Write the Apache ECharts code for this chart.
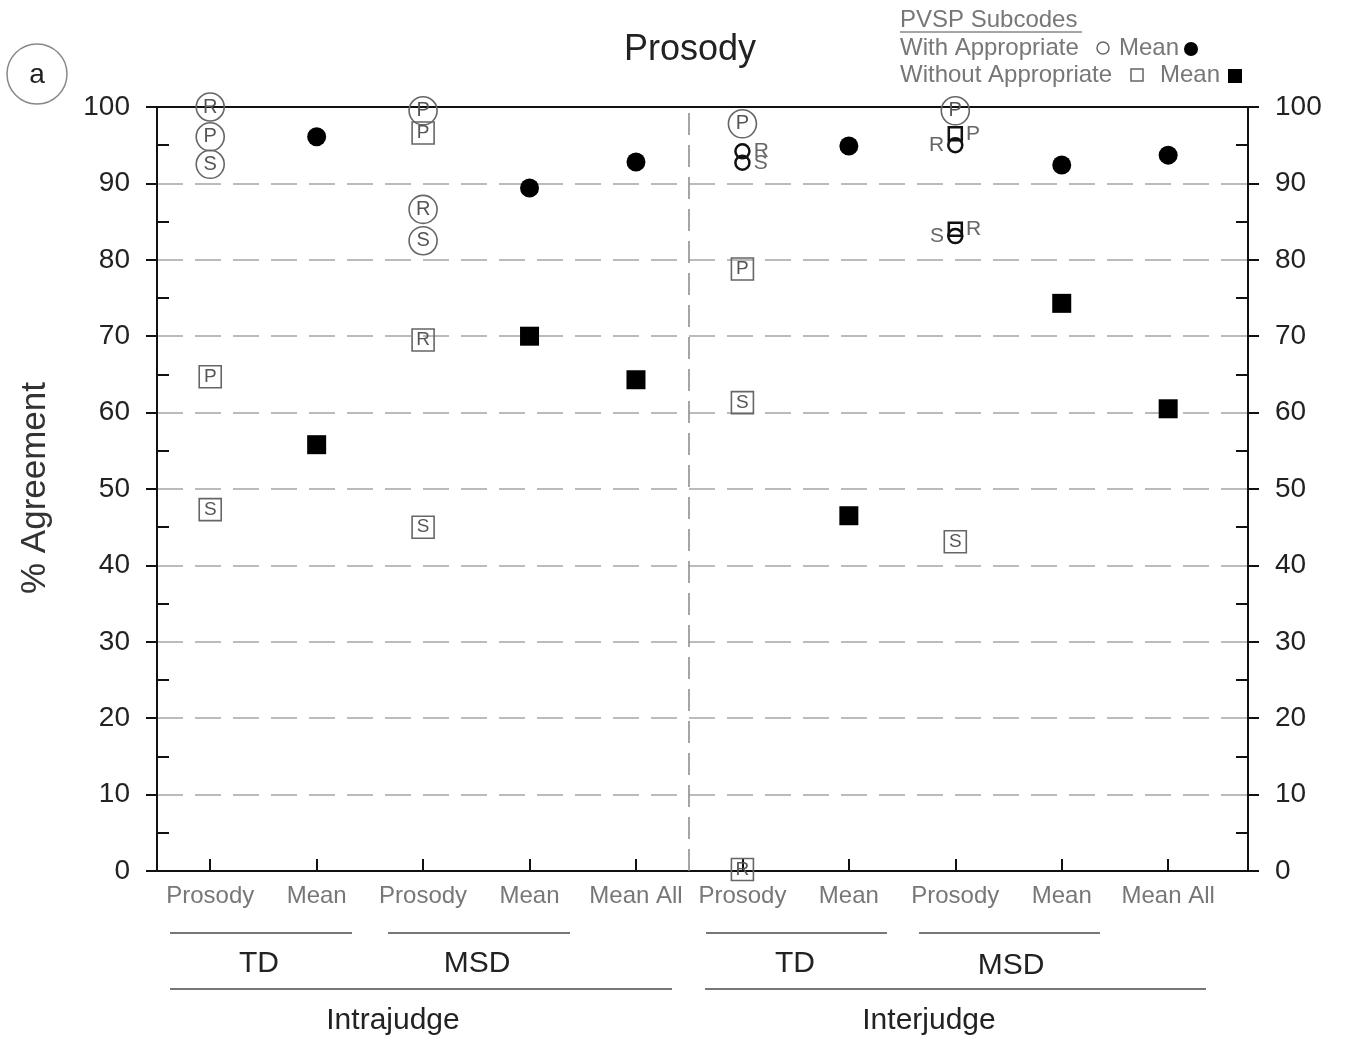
<!DOCTYPE html>
<html>
<head>
<meta charset="utf-8">
<script src="https://cdn.jsdelivr.net/npm/echarts@6/dist/echarts.min.js"></script>
<style>
html,body{margin:0;padding:0;background:#fff;}
#chart{width:1345px;height:1042px;}
</style>
</head>
<body>
<div id="chart"></div>
<script>
// ---- data ----
const categories = ['Prosody','Mean','Prosody','Mean','Mean All','Prosody','Mean','Prosody','Mean','Mean All'];
const catPositions = [1,2,3,4,5,6,7,8,9,10];
const yTicks = [0,10,20,30,40,50,60,70,80,90,100];
const yMinorTicks = [5,15,25,35,45,55,65,75,85,95];
// [category position, % agreement]
const withR = [[1,100.0],[3,86.6],[6,94.2],[8,95.0]];
const withP = [[1,96.1],[3,99.5],[6,97.8],[8,99.5]];
const withS = [[1,92.5],[3,82.5],[6,92.7],[8,83.1]];
const withoutR = [[3,69.5],[6,0.2],[8,84.0]];
const withoutP = [[1,64.7],[3,96.6],[6,78.8],[8,96.5]];
const withoutS = [[1,47.3],[3,45.0],[6,61.3],[8,43.1]];
const withMean = [[2,96.1],[4,89.4],[5,92.8],[7,94.9],[9,92.4],[10,93.7]];
const withoutMean = [[2,55.8],[4,70.0],[5,64.3],[7,46.5],[9,74.3],[10,60.5]];

// ---- style for points whose letter sits beside a small marker ----
const outsideLabel = {
  'withR:6':'right','withS:6':'right',
  'withR:8':'left','withS:8':'left',
  'withoutP:8':'right','withoutR:8':'right'
};

const FONT = '"Liberation Sans", Arial, sans-serif';
const chart = echarts.init(document.getElementById('chart'), null, {renderer:'canvas'});

function letterSeries(key, data, letter, shape){
  const isCircle = shape === 'circle';
  return {
    type:'scatter', name:key, clip:false, z:5,
    symbol: isCircle ? 'circle' : 'rect',
    symbolSize: isCircle ? 28 : 22,
    itemStyle:{color:'rgba(0,0,0,0)', borderColor:'#666', borderWidth:1.6, opacity:1},
    label:{show:true, position:'inside', formatter:letter, color:'#555', fontSize: isCircle?20:19, fontFamily:FONT},
    data: data.map(d => {
      const pos = outsideLabel[key + ':' + d[0]];
      if (!pos) return {value:d};
      return {
        value:d,
        symbolSize: isCircle ? 14 : 13,
        itemStyle:{color:'rgba(0,0,0,0)', borderColor:'#111', borderWidth:2.5, opacity:1},
        label:{show:true, position:pos, distance:3, color:'#666', fontSize:21}
      };
    })
  };
}

const axisLineStyle = {color:'#111', width:2};

const option = {
  animation:false,
  backgroundColor:'#fff',
  grid:{left:157, right:97, top:107, bottom:171, containLabel:false},
  xAxis:[
    {type:'value', position:'bottom', min:0.5, max:10.75,
     axisLine:{show:true, onZero:false, lineStyle:axisLineStyle},
     axisTick:{show:true, inside:true, length:12, customValues:catPositions, lineStyle:{color:'#111', width:2}},
     axisLabel:{show:true, customValues:catPositions, formatter:v => categories[Math.round(v)-1] || '', color:'#777', fontSize:24, fontFamily:FONT, margin:13},
     splitLine:{show:false}},
    {type:'value', position:'top', min:0.5, max:10.75,
     axisLine:{show:true, onZero:false, lineStyle:axisLineStyle},
     axisTick:{show:false}, axisLabel:{show:false}, splitLine:{show:false}}
  ],
  yAxis:[
    {type:'value', position:'left', min:0, max:100, interval:10,
     axisLine:{show:true, lineStyle:axisLineStyle},
     axisTick:{show:true, inside:false, length:11, customValues:yTicks, lineStyle:{color:'#111', width:2}},
     axisLabel:{show:true, customValues:yTicks, color:'#222', fontSize:28, fontFamily:FONT, margin:27},
     splitLine:{show:true, lineStyle:{color:'#bbb', width:2, type:[26,12]}}},
    {type:'value', position:'left', min:0, max:100, interval:10,
     axisLine:{show:false},
     axisTick:{show:true, inside:true, length:12, customValues:yMinorTicks, lineStyle:{color:'#111', width:2}},
     axisLabel:{show:false}, splitLine:{show:false}},
    {type:'value', position:'right', min:0, max:100, interval:10,
     axisLine:{show:true, lineStyle:axisLineStyle},
     axisTick:{show:true, inside:false, length:11, customValues:yTicks, lineStyle:{color:'#111', width:2}},
     axisLabel:{show:true, customValues:yTicks, color:'#222', fontSize:28, fontFamily:FONT, margin:27},
     splitLine:{show:false}},
    {type:'value', position:'right', min:0, max:100, interval:10,
     axisLine:{show:false},
     axisTick:{show:true, inside:true, length:12, customValues:yMinorTicks, lineStyle:{color:'#111', width:2}},
     axisLabel:{show:false}, splitLine:{show:false}}
  ],
  series:[
    {type:'scatter', name:'divider', data:[], z:1,
     markLine:{silent:true, symbol:['none','none'], label:{show:false},
       lineStyle:{color:'#888', width:1.5, type:[22,10]},
       data:[{xAxis:5.5}]}},
    letterSeries('withR', withR, 'R', 'circle'),
    letterSeries('withP', withP, 'P', 'circle'),
    letterSeries('withS', withS, 'S', 'circle'),
    letterSeries('withoutR', withoutR, 'R', 'rect'),
    letterSeries('withoutP', withoutP, 'P', 'rect'),
    letterSeries('withoutS', withoutS, 'S', 'rect'),
    {type:'scatter', name:'withMean', symbol:'circle', symbolSize:19, clip:false, z:6,
     itemStyle:{color:'#000', opacity:1}, data:withMean},
    {type:'scatter', name:'withoutMean', symbol:'rect', symbolSize:19, clip:false, z:6,
     itemStyle:{color:'#000', opacity:1}, data:withoutMean}
  ],
  graphic:[
    // title
    {type:'text', x:690, y:50, style:{text:'Prosody', fontSize:36, fill:'#222', fontFamily:FONT, align:'center', verticalAlign:'middle'}},
    // panel letter
    {type:'circle', shape:{cx:37, cy:74, r:30}, style:{fill:'none', stroke:'#888', lineWidth:1.5}},
    {type:'text', x:37, y:75, style:{text:'a', fontSize:28, fill:'#222', fontFamily:FONT, align:'center', verticalAlign:'middle'}},
    // y axis name
    {type:'text', x:35, y:488, rotation:Math.PI/2, style:{text:'% Agreement', fontSize:35, fill:'#333', fontFamily:FONT, align:'center', verticalAlign:'middle'}},
    // legend
    {type:'text', x:900, y:20, style:{text:'PVSP Subcodes', fontSize:24, fill:'#777', fontFamily:FONT, verticalAlign:'middle'}},
    {type:'line', shape:{x1:900, y1:32, x2:1082, y2:32}, style:{stroke:'#888', lineWidth:1.5}},
    {type:'text', x:900, y:48, style:{text:'With Appropriate', fontSize:24, fill:'#777', fontFamily:FONT, verticalAlign:'middle'}},
    {type:'circle', shape:{cx:1103, cy:48, r:6}, style:{fill:'none', stroke:'#666', lineWidth:1.5}},
    {type:'text', x:1119, y:48, style:{text:'Mean', fontSize:24, fill:'#777', fontFamily:FONT, verticalAlign:'middle'}},
    {type:'circle', shape:{cx:1191, cy:49, r:7}, style:{fill:'#000'}},
    {type:'text', x:900, y:75, style:{text:'Without Appropriate', fontSize:24, fill:'#777', fontFamily:FONT, verticalAlign:'middle'}},
    {type:'rect', shape:{x:1131, y:69, width:12, height:12}, style:{fill:'none', stroke:'#666', lineWidth:1.5}},
    {type:'text', x:1160, y:75, style:{text:'Mean', fontSize:24, fill:'#777', fontFamily:FONT, verticalAlign:'middle'}},
    {type:'rect', shape:{x:1228, y:69, width:14, height:14}, style:{fill:'#000'}},
    // group annotations
    {type:'line', shape:{x1:170, y1:933, x2:352, y2:933}, style:{stroke:'#777', lineWidth:2}},
    {type:'line', shape:{x1:388, y1:933, x2:570, y2:933}, style:{stroke:'#777', lineWidth:2}},
    {type:'line', shape:{x1:706, y1:933, x2:887, y2:933}, style:{stroke:'#777', lineWidth:2}},
    {type:'line', shape:{x1:919, y1:933, x2:1100, y2:933}, style:{stroke:'#777', lineWidth:2}},
    {type:'text', x:259, y:964, style:{text:'TD', fontSize:30, fill:'#222', fontFamily:FONT, align:'center', verticalAlign:'middle'}},
    {type:'text', x:477, y:964, style:{text:'MSD', fontSize:30, fill:'#222', fontFamily:FONT, align:'center', verticalAlign:'middle'}},
    {type:'text', x:795, y:964, style:{text:'TD', fontSize:30, fill:'#222', fontFamily:FONT, align:'center', verticalAlign:'middle'}},
    {type:'text', x:1011, y:966, style:{text:'MSD', fontSize:30, fill:'#222', fontFamily:FONT, align:'center', verticalAlign:'middle'}},
    {type:'line', shape:{x1:170, y1:989, x2:672, y2:989}, style:{stroke:'#777', lineWidth:2}},
    {type:'line', shape:{x1:705, y1:989, x2:1206, y2:989}, style:{stroke:'#777', lineWidth:2}},
    {type:'text', x:393, y:1021, style:{text:'Intrajudge', fontSize:30, fill:'#222', fontFamily:FONT, align:'center', verticalAlign:'middle'}},
    {type:'text', x:929, y:1021, style:{text:'Interjudge', fontSize:30, fill:'#222', fontFamily:FONT, align:'center', verticalAlign:'middle'}}
  ]
};
chart.setOption(option);
</script>
</body>
</html>
